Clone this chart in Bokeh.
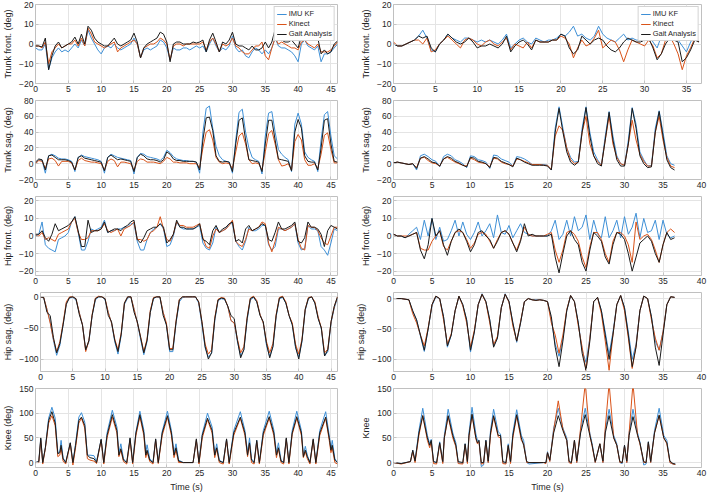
from bokeh.plotting import figure
from bokeh.layouts import column, row
from bokeh.models import Range1d, FixedTicker, Legend, LegendItem
from bokeh.embed import file_html
from bokeh.resources import INLINE

SERIES = ["IMU KF", "Kinect", "Gait Analysis"]
COLORS = ["#3d8fd6", "#d95319", "#1a1a1a"]
STEP = 0.5  # sampling step (s) of the uniformly read series
LEFT_XTICKS = [0, 5, 10, 15, 20, 25, 30, 35, 40, 45]
RIGHT_XTICKS_TOP = [0, 5, 10, 15, 20, 25, 30, 35]
RIGHT_XTICKS = [0, 5, 10, 15, 20, 25, 30, 35, 40]

# ---------------- LEFT COLUMN (subject A), 0..46 s every 0.5 s ----------------
L1_IMU = [-2, -3, -3, 0, -13, -7, -4, -2, -4, -3,
          -4, -2, 0, -2, 2, -1, 7, 3, 0, -3,
          -5, -2, -1, -2, 0, -2, -3, -2, -1, 0,
          3, 0, -7, -3, -2, -3, -2, -1, 2, 1,
          -2, -8, -2, -3, -3, -2, -2, -3, -2, -1,
          -2, -1, -4, 0, 3, -1, -4, -2, -3, -1,
          4, -2, -4, -3, -6, -7, -4, -2, -3, -5,
          -3, -5, -2, 3, -1, -2, -2, -3, -4, -6,
          -9, 0, 2, -1, -2, -3, -1, -9, -5, -5,
          -4, -2, 0]
L1_KIN = [-1, -1, -2, 1, -10, -4, -2, 0, -2, -1,
          0, 0, 2, -1, 3, -1, 8, 5, 1, 0,
          -1, -2, -1, 0, 1, -4, -2, -1, 0, 1,
          2, 0, -7, -2, -1, 0, 0, 1, 3, 2,
          0, -8, -1, 0, 0, -1, 0, 0, 0, 0,
          0, 1, -3, 1, 3, 0, -4, 0, -1, 0,
          3, -1, -2, -4, -5, -5, -3, -1, -1, 1,
          -6, -8, -2, 3, 0, 1, 0, -1, -2, -2,
          -3, 1, 2, 0, -1, -2, 0, -4, -4, -4,
          -3, -1, 1]
L1_GAIT = [-1, -1, -1.5, 3, -13, -6, -1, 1, -2, -1,
           0, 1, 3.5, 0, 5, 0, 9, 7, 3, 1,
           0, -1, -1, 1, 3, 0, -1, 0, 1, 2,
           5.5, 1, -7, -2, 0, 1, 2, 3, 6, 5,
           1, -9, 0, 1, 1, 0, 0, 0, 1, 0.5,
           1, 2, -4, 2, 5.5, 1, -4, 1, 0, 2,
           6, 0, -1, -1, -2, -3, -1, -3, -3, -2,
           1, -2, 1, 7.5, 2, 2, 1, 1, 2, 0,
           -2, 4, 3, 3, 2, 2, 3, -5, -3, -5,
           -4, 0, 1.5]

L2_IMU = [0, 5, 4, -12, 10, 12, 10, 7, 6, 6,
          5, 3, -10, 8, 11, 9, 8, 7, 6, 5,
          3, -12, 8, 12, 10, 8, 7, 6, 5, 4,
          -13, 8, 13, 12, 9, 8, 7, 6, 4, 8,
          17, 14, 9, 6, 5, 4, 4, 3, 3, 2,
          -12, 40, 70, 73, 45, 22, 10, 5, 3, 2,
          -12, 30, 65, 69, 40, 20, 8, 5, 3, -13,
          35, 64, 66, 40, 18, 12, 8, 5, -10, 50,
          64, 50, 15, 8, 5, 3, -10, 30, 62, 66,
          35, 10, 6]
L2_KIN = [0, 4, 3, -6, 6, 7, 4, -3, 3, 3,
          3, 1, -8, 4, 7, 4, 3, 2, 2, 1,
          0, -8, 3, 6, 4, -4, 2, 2, 1, 0,
          -8, 3, 6, 5, 2, 2, 2, 1, 0, 3,
          8, 6, 2, 2, 1, 1, 1, 0, 0, 0,
          -5, 20, 40, 43, 30, 8, 2, 0, 1, 0,
          -6, 15, 35, 39, 25, 5, 0, 1, 0, -8,
          15, 38, 42, 25, 5, -3, -2, 0, -8, 28,
          37, 30, 5, -2, -2, 0, -6, 12, 36, 39,
          18, 1, 1]
L2_GAIT = [2, 6, 5, -8, 10, 11, 8, 5, 5, 5,
           4, 2, -8, 8, 10, 7, 6, 5, 4, 3,
           2, -9, 8, 11, 8, 5, 6, 5, 4, 3,
           -10, 8, 12, 10, 6, 5, 5, 4, 2, 5,
           15, 12, 6, 4, 4, 3, 3, 3, 3, 2,
           -8, 30, 58, 59, 42, 10, 3, 2, 3, 2,
           -10, 25, 55, 58, 30, 5, 4, 3, 2, -10,
           25, 55, 55, 30, 6, 5, 4, 3, -9, 40,
           56, 45, 10, 3, 2, 2, -8, 20, 55, 57,
           25, 3, 2]

L3_IMU = [0, 1, 8, -5, -7, -8, -9, -2, -1, 0,
          2, 8, 11, 2, -8, -8, -3, 4, 3, 4,
          5, 9, 2, 3, 3, 4, 4, 5, 5, 7,
          7, -3, -8, -8, -2, 2, 4, 5, 7, 4,
          -6, -5, 0, 8, 5, 4, 4, 4, 4, 5,
          6, -4, -7, -8, -4, 5, 2, 3, 4, 7,
          7, -3, -6, -8, -3, 5, 3, 3, 4, 6,
          6, -5, -8, -6, 4, 4, 3, 4, 5, 7,
          -4, -8, -7, 6, 4, 4, 3, -6, -8, -11,
          -4, 4, 3]
L3_KIN = [0, 0, 2, -2, -1, -2, -3, 1, 2, 3,
          4, 8, 10, 2, -2, -2, -1, 3, 3, 3,
          4, 7, 3, 2, 3, 4, 0, 4, 5, 6,
          8, -2, -2, -3, -2, 2, 3, 5, 11, 4,
          -2, -3, 1, 8, 6, 6, 5, 5, 5, 6,
          7, -1, -6, -7, 0, 4, 2, 3, 4, 6,
          9, -3, -5, -6, -2, 4, 3, 4, 5, 8,
          7, -4, -9, -3, 5, 4, 3, 4, 5, 7,
          -2, -7, -8, 6, 5, 5, 3, -1, -4, -5,
          0, 5, 5]
L3_GAIT = [1, 1, 3, -1, -3, 1, 7, 3, 4, 5,
           6, 8, 11, 3, -6, -6, 9, 2, 3, 3,
           4, 8, 2, 3, 4, 4, 3, 5, 6, 8,
           9, -2, -4, -1, 3, 4, 5, 5, 7, 5,
           -4, -2, 1, 9, 5, 5, 4, 4, 4, 5,
           7, -2, -3, -5, 3, 6, 2, 4, 5, 7,
           8, -3, -2, -4, 4, 6, 3, 4, 5, 7,
           6, -2, -3, 2, 8, 4, 4, 5, 6, 8,
           -3, -4, -1, 8, 5, 5, 4, 1, -6, 3,
           6, 5, 4]

L4_IMU = [0, -2, -20, -40, -70, -94, -78, -45, -10, -2,
          -1, -5, -25, -45, -86, -72, -30, -5, 0, 0,
          -5, -25, -42, -72, -92, -62, -12, -2, 0, -20,
          -42, -68, -93, -72, -25, -3, 0, -1, -25, -45,
          -88, -88, -42, -8, -1, 0, 0, 0, 0, -10,
          -45, -82, -97, -90, -38, -6, -3, -4, -15, -38,
          -42, -72, -95, -85, -38, -5, -1, -8, -28, -42,
          -78, -96, -80, -32, -3, -1, -10, -30, -45, -82,
          -97, -72, -22, -3, 0, -10, -33, -52, -95, -88,
          -42, -18, -2]
L4_KIN = [0, -1, -20, -42, -68, -88, -72, -42, -8, 0,
          0, -3, -25, -45, -88, -70, -28, -2, 1, 0,
          -3, -25, -42, -68, -85, -58, -10, 0, 0, -20,
          -42, -64, -88, -68, -22, -1, 0, 0, -25, -42,
          -83, -83, -38, -4, 0, 0, 0, 0, 0, -8,
          -40, -76, -92, -85, -33, -4, -1, -2, -15, -38,
          -42, -68, -90, -80, -33, -2, 1, -6, -28, -42,
          -72, -90, -75, -28, -1, 1, -8, -30, -42, -76,
          -92, -68, -20, -1, 0, -8, -32, -50, -90, -84,
          -40, -16, 0]
L4_GAIT = [0, -1, -25, -30, -65, -90, -75, -45, -12, -1,
           0, -3, -28, -45, -85, -70, -30, -3, 0, 0,
           -3, -30, -40, -70, -88, -60, -10, 0, 0, -25,
           -40, -65, -90, -70, -25, -2, 0, 0, -30, -45,
           -85, -85, -40, -5, 0, 0, 0, 0, 0, -8,
           -40, -80, -100, -90, -35, -5, -2, -3, -15, -30,
           -35, -70, -98, -85, -35, -3, 0, -8, -30, -40,
           -75, -98, -80, -30, -2, 0, -10, -30, -45, -80,
           -100, -70, -20, -2, 0, -10, -35, -50, -95, -85,
           -40, -15, 0]

# knee (left): read at irregular key times (s)
LK_T = [0.0, 0.5, 0.8, 1.1, 1.5, 2.0, 2.5, 3.0, 3.4, 3.7,
        3.9, 4.2, 4.6, 5.3, 5.7, 6.1, 6.6, 7.0, 7.5, 7.9,
        8.3, 8.9, 9.3, 10.0, 10.4, 10.9, 11.7, 12.4, 12.7, 13.0,
        13.4, 13.9, 14.4, 14.8, 15.3, 15.9, 16.5, 16.8, 17.0, 17.4,
        17.9, 18.3, 18.7, 19.3, 20.1, 20.7, 21.1, 21.4, 21.8, 22.5,
        24.0, 24.5, 24.9, 25.4, 26.2, 26.9, 27.3, 27.6, 28.0, 28.6,
        29.1, 29.5, 30.2, 31.2, 31.9, 32.3, 32.6, 32.9, 33.3, 33.7,
        34.1, 34.7, 35.6, 36.3, 36.7, 37.0, 37.4, 37.8, 38.2, 38.6,
        39.1, 39.8, 40.5, 40.8, 41.1, 41.4, 41.8, 42.3, 42.7, 43.3,
        44.2, 44.8, 45.0, 45.2, 45.6, 46.0]
LK_IMU = [0, 2, 48, 0, 30, 90, 112, 90, 20, 22,
          45, 10, 0, 40, 0, 38, 92, 101, 82, 15,
          15, 14, 2, 47, 0, 60, 106, 72, 20, 38,
          8, 0, 48, 0, 62, 104, 66, 20, 36, 8,
          0, 47, 0, 63, 104, 65, 20, 38, 5, 0,
          0, 45, 0, 58, 100, 72, 18, 38, 5, 0,
          47, 0, 65, 103, 65, 20, 50, 8, 0, 45,
          0, 65, 104, 66, 20, 40, 5, 0, 48, 0,
          65, 104, 65, 15, 33, 15, 0, 46, 0, 65,
          103, 50, 28, 45, 8, 0]
LK_KIN = [0, 0, 45, -3, 28, 80, 95, 75, 12, 15,
          30, 3, -3, 38, -5, 30, 80, 90, 70, 8,
          5, 3, -2, 45, -3, 50, 92, 60, 12, 25,
          2, -3, 45, -3, 55, 93, 55, 10, 22, 2,
          -3, 45, -2, 55, 92, 55, 10, 25, 0, 0,
          0, 45, -3, 50, 87, 60, 10, 28, 0, -3,
          45, -3, 55, 90, 55, 12, 38, 0, -3, 42,
          -3, 55, 90, 55, 10, 28, 0, -3, 47, -3,
          57, 90, 55, 10, 22, 8, -3, 45, -3, 55,
          90, 40, 20, 30, 0, -3]
LK_GAIT = [0, 2, 50, 0, 30, 85, 103, 80, 18, 20,
           35, 8, 0, 40, 0, 35, 85, 92, 75, 15,
           10, 8, 0, 47, 0, 55, 97, 65, 15, 28,
           5, 0, 50, 0, 60, 97, 60, 15, 25, 5,
           0, 48, 0, 60, 95, 60, 15, 30, 3, 0,
           0, 48, 0, 55, 90, 65, 15, 30, 3, 0,
           48, 0, 60, 92, 60, 15, 40, 5, 0, 45,
           0, 60, 93, 60, 15, 30, 3, 0, 50, 0,
           60, 93, 60, 12, 25, 12, 0, 48, 0, 60,
           92, 45, 25, 35, 5, 0]

# ---------------- RIGHT COLUMN (subject B), 0..36.5 s every 0.5 s ----------------
R1_IMU = [0, -1, -1, 0, 1, 2, 4, 7, 3, -3,
          -4, 0, 2, 5, 3, 2, 1, 3, 3, 2,
          1, 2, 1, 2, 1, 0, 2, 5, -2, 0,
          2, 3, 1, 0, 3, 2, 1, 2, 2, 3,
          5, 4, 6, 9, 4, 5, 3, 2, 4, 9,
          5, 3, 2, 1, 3, 5, 2, 3, 2, 2,
          4, 5, 1, -2, 4, 3, 4, 6, 2, -1,
          -4, 1, 4, 1]
R1_KIN = [1, -1, -1, 0, 1, 2, 2, 0, 3, -4,
          -3, 0, 2, 4, 2, 0, -2, 2, 3, 2,
          0, -1, 1, 2, 0, -1, 1, 3, -3, 0,
          -1, -2, 1, -2, 2, 1, 1, 1, 2, 2,
          4, 3, 0, -7, -2, 2, -1, 0, 3, 7,
          -2, 0, 2, 1, -3, -9, -3, 2, 1, 0,
          -1, 2, -1, -7, -5, 2, 4, 0, -5, -13,
          -6, -2, 3, 1]
R1_GAIT = [0, -1, -1, 0, 1, 2, 4, 3, 4, -2,
           -4, 0, 2, 5, 3, 1, 0, 1, 3, 1,
           -2, -1, -1, 0, -1, -2, 0, 4, -4, -1,
           1, 2, 0, -3, 2, 1, 1, 1, 2, 2,
           5, 4, -2, -5, -3, 4, 2, 0, 2, 3,
           2, -1, -3, -4, -2, 1, 3, 2, 1, 1,
           2, 3, -2, -8, -5, 0, 3, 2, 1, -9,
           -7, -3, 2, 1]

R2_IMU = [1, 2, 1, 0, -1, 0, -8, 10, 12, 9,
          5, 3, -4, 9, 12, 10, 5, 3, 0, -5,
          10, 9, 5, 4, 2, -6, 11, 10, 6, 4,
          2, -3, 9, 8, 6, 3, -1, -1, -1, -1,
          -2, -8, 45, 72, 45, 20, 8, 2, 3, 45,
          72, 40, 15, 5, -2, 35, 66, 35, 10, 0,
          -2, 30, 71, 50, 15, 5, -3, -2, 45, 67,
          40, 10, 0, -2]
R2_KIN = [1, 2, 1, 0, -1, 0, -5, 7, 8, 4,
          1, 0, -3, 6, 8, 5, 2, 0, -2, -3,
          7, 5, 2, 1, 0, -4, 7, 6, 2, 0,
          -1, -3, 6, 5, 3, 1, -1, -1, -1, -2,
          -2, -7, 35, 48, 42, 20, 5, 0, 2, 40,
          60, 25, 10, 3, -2, 30, 60, 25, 8, 0,
          -2, 25, 55, 30, 12, 3, -3, -3, 40, 60,
          30, 8, -3, -5]
R2_GAIT = [1, 2, 1, 0, -1, 0, -6, 7, 9, 6,
           2, 1, -3, 6, 9, 7, 3, 1, -2, -4,
           8, 7, 3, 2, 0, -5, 8, 7, 3, 1,
           -1, -4, 7, 5, 2, 0, -2, -2, -2, -2,
           -3, -8, 40, 70, 40, 15, 2, -2, 2, 40,
           71, 35, 10, 0, -3, 30, 65, 30, 5, -3,
           -3, 25, 70, 45, 10, 0, -5, -4, 40, 66,
           35, 5, -5, -8]

R3_IMU = [1, 0, 0, -1, 1, 3, 5, -2, 9, 0,
          10, -2, 5, -3, -2, 3, 9, 0, 8, 1,
          -2, 2, 8, 0, 3, 7, -1, 12, 2, 1,
          6, -1, 3, 7, 2, 1, 0, 0, 0, 0,
          0, 3, 9, -2, 1, 9, 0, 11, 3, 5,
          12, -2, 9, 1, -1, 11, -1, 3, 9, -1,
          11, 1, 5, 13, -1, 10, 2, 3, 9, -2,
          9, 1, -1, 0]
R3_KIN = [1, 0, 0, 0, 0, 1, 2, -7, -8, -8,
          -3, 0, 3, -6, -8, -3, 2, 3, 2, -2,
          -7, -4, 1, 2, 1, -3, -7, -2, 2, 3,
          1, -4, -8, -2, 5, 1, 0, 0, 0, 0,
          1, 2, -8, -15, -8, 2, 3, 1, -3, -12,
          -18, -6, 2, 2, -2, -10, -15, -3, 2, 2,
          0, -5, -15, 8, -2, 0, 1, -2, -8, -15,
          -5, 2, 4, 2]
R3_GAIT = [1, 0, 0, -1, 0, 1, 2, -8, -13, -5,
           10, 0, 3, -5, -11, -3, 2, 4, 2, -3,
           -9, -5, 2, 3, 0, -2, -7, -3, 2, 3,
           1, -4, -9, -3, 7, 0, 1, 0, 0, 0,
           0, 1, -12, -21, -10, 0, 3, -2, -5, -15,
           -20, -8, 2, 0, -3, -12, -16, -5, 2, 1,
           -2, -10, -20, -12, -4, -2, 0, -3, -10, -15,
           -5, 2, -2, -1]

R4_IMU = [0, 0, 0, -1, -2, -22, -35, -62, -87, -50,
          -12, 3, 0, -30, -80, -60, -20, 3, -10, -35,
          -88, -55, -10, 8, -5, -35, -78, -65, -15, 8,
          -5, -40, -72, -40, -5, 0, -2, -2, -2, -3,
          -5, -35, -75, -95, -65, -20, 5, -5, -40, -85,
          -105, -65, -5, 2, -20, -55, -92, -55, -10, 5,
          -15, -55, -100, -75, -20, 4, 0, -30, -70, -85,
          -55, -10, 3, 2]
R4_KIN = [0, 0, 0, -1, -2, -25, -40, -60, -78, -48,
          -10, 4, 0, -35, -75, -58, -20, 4, -12, -40,
          -80, -52, -10, 7, -6, -40, -76, -62, -15, 7,
          -6, -45, -70, -38, -5, 0, -2, -3, -2, -3,
          -5, -40, -60, -90, -60, -18, 5, -5, -45, -80,
          -118, -65, -5, 2, -25, -70, -118, -60, -10, 5,
          -20, -65, -115, -78, -20, 4, 0, -35, -65, -85,
          -55, -10, 3, 2]
R4_GAIT = [0, 0, 0, -1, -2, -20, -35, -60, -85, -50,
           -10, 4, 0, -30, -78, -60, -20, 4, -10, -35,
           -85, -55, -10, 7, -5, -35, -80, -65, -15, 7,
           -5, -40, -70, -40, -5, 0, -2, -3, -2, -3,
           -5, -30, -80, -112, -70, -20, 5, -5, -40, -90,
           -118, -70, -5, 2, -20, -60, -100, -60, -10, 5,
           -15, -60, -112, -80, -20, 4, 0, -30, -80, -110,
           -60, -10, 3, 2]

# knee (right): read at irregular key times (s)
RK_T = [0.0, 1.0, 2.2, 2.5, 2.8, 3.3, 3.8, 4.4, 4.7, 4.9,
        5.2, 5.6, 6.0, 6.4, 6.6, 7.1, 7.7, 8.1, 8.4, 9.0,
        9.3, 9.6, 9.8, 10.2, 10.7, 10.9, 11.1, 11.4, 11.7, 12.0,
        12.3, 12.6, 13.0, 13.6, 13.9, 14.2, 14.6, 14.9, 15.2, 15.5,
        16.0, 16.6, 16.9, 17.3, 17.6, 19.5, 19.8, 20.0, 20.3, 20.8,
        21.4, 22.0, 22.5, 22.8, 23.1, 23.5, 23.8, 24.3, 24.9, 25.5,
        25.8, 26.2, 26.8, 27.2, 27.5, 28.0, 28.6, 29.0, 29.4, 29.7,
        30.0, 30.3, 30.6, 31.1, 31.7, 32.0, 32.5, 32.8, 33.1, 33.4,
        33.9, 34.5, 35.1, 35.5, 35.9, 36.3, 36.6]
RK_IMU = [0, -2, 2, 25, 3, 65, 110, 55, 38, 47,
          2, 0, 42, 0, 55, 108, 60, 40, 0, -2,
          38, 0, 60, 112, 58, 45, 45, -8, -5, 45,
          0, 65, 108, 62, 58, 0, -2, 38, 0, 60,
          107, 55, 45, 0, -3, 0, 0, 22, 3, 70,
          110, 70, 50, 0, 0, 45, 0, 65, 110, 60,
          38, 0, 38, 0, 65, 108, 55, 38, 0, -2,
          35, 0, 60, 108, 60, 42, -5, -3, 42, 0,
          65, 110, 55, 45, 0, -3, -3]
RK_KIN = [0, -3, 2, 22, 0, 55, 95, 45, 30, 42,
          -2, -3, 38, -2, 50, 93, 50, 32, -2, -3,
          35, -2, 52, 96, 48, 38, 42, -3, -2, 42,
          0, 55, 93, 52, 50, -2, -3, 33, -2, 50,
          95, 45, 38, 0, 0, 0, -2, 20, 2, 65,
          125, 68, 45, 0, -2, 45, 0, 70, 160, 55,
          33, 0, 38, 0, 70, 160, 50, 35, 0, 0,
          33, 0, 60, 160, 55, 38, 0, 0, 40, 0,
          60, 95, 50, 38, 0, -3, -4]
RK_GAIT = [0, -2, 2, 25, 3, 60, 95, 50, 35, 45,
           2, 0, 40, 2, 50, 95, 55, 35, 2, 0,
           38, 2, 55, 98, 50, 40, 45, 0, 0, 45,
           3, 60, 95, 55, 55, 2, 0, 35, 2, 55,
           97, 50, 35, 2, 0, 0, 0, 20, 5, 60,
           95, 65, 45, 3, 0, 45, 3, 60, 97, 55,
           35, 2, 38, 3, 60, 95, 50, 35, 2, 0,
           35, 3, 55, 93, 55, 40, 2, 0, 42, 2,
           60, 96, 50, 40, 3, -2, -3]

FONT = "'Liberation Sans', Arial, sans-serif"
TXT = "#262626"


def grid_t(vals):
    return [i * STEP for i in range(len(vals))]


def panel(t, series, xmax, xticks, ylim, yticks, ylabel, left, bottom, legend):
    w = 341 if left else 366
    h = 110 if bottom else 96
    p = figure(width=w, height=h,
               x_range=Range1d(0, xmax), y_range=Range1d(*ylim),
               output_backend="svg", toolbar_location=None,
               min_border_left=32 if left else 52,
               min_border_right=4 if left else 6,
               min_border_top=4, min_border_bottom=26 if bottom else 13)
    rends = []
    for vals, col in zip(series, COLORS):
        rends.append(p.line(t, vals, line_color=col, line_width=1.0))
    p.xaxis.ticker = FixedTicker(ticks=xticks)
    p.yaxis.ticker = FixedTicker(ticks=yticks)
    for ax in (p.xaxis[0], p.yaxis[0]):
        ax.axis_line_color = None
        ax.major_tick_in = 3
        ax.major_tick_out = 0
        ax.minor_tick_line_color = None
        ax.major_tick_line_color = "#c4c4c4"
        ax.major_label_text_font = FONT
        ax.major_label_text_font_size = "8.5px"
        ax.major_label_text_color = TXT
        ax.major_label_standoff = 2
        ax.axis_label_text_font = FONT
        ax.axis_label_text_font_size = "9px"
        ax.axis_label_text_font_style = "normal"
        ax.axis_label_text_color = TXT
        ax.axis_label_standoff = 3
    p.yaxis.axis_label = ylabel
    if bottom:
        p.xaxis.axis_label = "Time (s)"
    p.xgrid.grid_line_color = "#e4e4e4"
    p.ygrid.grid_line_color = "#e4e4e4"
    p.outline_line_color = "#c0c0c0"
    p.outline_line_width = 1
    p.background_fill_color = "white"
    p.border_fill_color = "white"
    if legend:
        items = [LegendItem(label=s, renderers=[r]) for s, r in zip(SERIES, rends)]
        lg = Legend(items=items, location="top_right",
                    label_text_font=FONT, label_text_font_size="7.5px",
                    label_text_color=TXT, label_height=8, glyph_height=8,
                    glyph_width=10, label_standoff=2, padding=2, spacing=1,
                    margin=2, border_line_color="#a8a8a8", border_line_width=0.8,
                    background_fill_alpha=1.0)
        p.add_layout(lg, "center")
    return p


left_specs = [
    (grid_t(L1_GAIT), (L1_IMU, L1_KIN, L1_GAIT), (-20, 20), [-20, -10, 0, 10, 20], "Trunk front. (deg)"),
    (grid_t(L2_GAIT), (L2_IMU, L2_KIN, L2_GAIT), (-20, 80), [-20, 0, 20, 40, 60, 80], "Trunk sag. (deg)"),
    (grid_t(L3_GAIT), (L3_IMU, L3_KIN, L3_GAIT), (-22.5, 22.5), [-20, -10, 0, 10, 20], "Hip front. (deg)"),
    (grid_t(L4_GAIT), (L4_IMU, L4_KIN, L4_GAIT), (-120, 7), [-100, -50, 0], "Hip sag. (deg)"),
    (LK_T, (LK_IMU, LK_KIN, LK_GAIT), (-10, 150), [0, 50, 100, 150], "Knee (deg)"),
]
right_specs = [
    (grid_t(R1_GAIT), (R1_IMU, R1_KIN, R1_GAIT), (-20, 20), [-20, -10, 0, 10, 20], "Trunk front. (deg)"),
    (grid_t(R2_GAIT), (R2_IMU, R2_KIN, R2_GAIT), (-20, 80), [-20, 0, 20, 40, 60, 80], "Trunk sag. (deg)"),
    (grid_t(R3_GAIT), (R3_IMU, R3_KIN, R3_GAIT), (-22.5, 22.5), [-20, -10, 0, 10, 20], "Hip front. (deg)"),
    (grid_t(R4_GAIT), (R4_IMU, R4_KIN, R4_GAIT), (-120, 10), [-100, -50, 0], "Hip sag. (deg)"),
    (RK_T, (RK_IMU, RK_KIN, RK_GAIT), (-10, 150), [0, 50, 100, 150], "Knee"),
]

rows = []
for i in range(5):
    lt, ls, lyl, lyt, lylab = left_specs[i]
    rt, rs, ryl, ryt, rylab = right_specs[i]
    bottom = (i == 4)
    pl = panel(lt, ls, 46, LEFT_XTICKS, lyl, lyt, lylab, True, bottom, i == 0)
    if i == 0:
        pr = panel(rt, rs, 36.8, RIGHT_XTICKS_TOP, ryl, ryt, rylab, False, bottom, True)
    else:
        pr = panel(rt, rs, 40, RIGHT_XTICKS, ryl, ryt, rylab, False, bottom, False)
    rows.append(row(pl, pr))

layout = column(*rows)
open("out.html", "w").write(file_html(layout, INLINE, title="IMU vs Kinect vs Gait Analysis"))
